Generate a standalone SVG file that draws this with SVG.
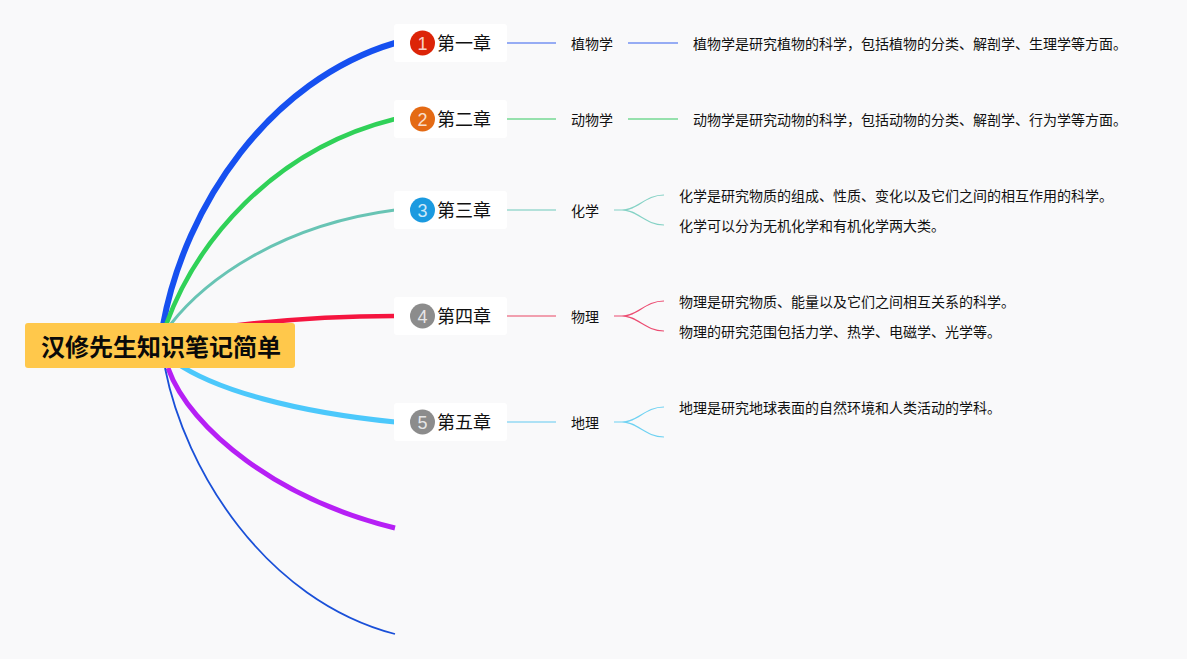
<svg xmlns="http://www.w3.org/2000/svg" width="1187" height="659" viewBox="0 0 1187 659">
<style>
text{font-family:"Noto Sans CJK SC","Noto Sans",sans-serif;fill:#111}
.ch{font-size:18px}
.sub{font-size:14px}
.leaf{font-size:14px}
.num{font-family:"Liberation Sans",sans-serif;font-size:18px;fill:#fff;text-anchor:middle;fill-opacity:.8}
.box{fill:#fff}
.m{fill:none;stroke-linecap:butt}
.t{fill:none;stroke-width:1.5;stroke-opacity:.65}
.b{stroke-width:1.2;fill:none;stroke-opacity:.8}
</style>
<rect width="1187" height="659" fill="#f9f9fa"/>
<g id="connectors">
<path class="m" d="M163 325C185 205 270 80 395 43" stroke="#1650f0" stroke-width="6"/>
<path class="m" d="M166 325C195 245 270 150 395 119" stroke="#30d158" stroke-width="4.5"/>
<path class="m" d="M170 325C205 280 280 225 395 210" stroke="#68c4b4" stroke-width="3"/>
<path class="m" d="M230 326C280 320 340 316 395 316" stroke="#f5153f" stroke-width="4.5"/>
<path class="m" d="M175 362C215 390 295 412 395 422" stroke="#4cc8fb" stroke-width="5"/>
<path class="m" d="M168 368C190 430 280 500 395 528" stroke="#b620f5" stroke-width="5"/>
<path class="m" d="M165 368C185 470 265 600 395 634" stroke="#1a50d8" stroke-width="1.8"/>
<g class="t">
<path d="M507 43H556M628 43H678" stroke="#2f5cf0"/>
<path d="M507 119H556M628 119H678" stroke="#30c860"/>
<path d="M507 210H556" stroke="#68c8b8"/>
<path d="M507 316H556" stroke="#e8405f"/>
<path d="M507 422H556" stroke="#5cc8f0"/>
</g>
<g class="b" stroke="#68c8b8"><path d="M614 210H622C638 210 645 195 664 195M622 210C638 210 645 225 664 225"/></g>
<g class="b" stroke="#e8204f"><path d="M614 316H622C638 316 645 301 664 301M622 316C638 316 645 331 664 331"/></g>
<g class="b" stroke="#4cc8f0"><path d="M614 422H622C638 422 645 407 664 407M622 422C638 422 645 437 664 437"/></g>
</g>
<g id="root"><rect x="25" y="323" width="270" height="45" rx="3" fill="#ffc84b"/>
<text x="41" y="356" font-size="24" font-weight="700" style="fill:#0a0a0a">汉修先生知识笔记简单</text></g>
<g id="ch1"><rect class="box" x="394" y="24" width="113" height="38" rx="3"/><circle cx="422.500" cy="43" r="12.500" fill="#dc2408"/><text class="num" x="422.500" y="49.500">1</text><text class="ch" x="437" y="50">第一章</text></g>
<g id="ch2"><rect class="box" x="394" y="100" width="113" height="38" rx="3"/><circle cx="422.500" cy="119" r="12.500" fill="#e46a14"/><text class="num" x="422.500" y="125.500">2</text><text class="ch" x="437" y="126">第二章</text></g>
<g id="ch3"><rect class="box" x="394" y="191" width="113" height="38" rx="3"/><circle cx="422.500" cy="210" r="12.500" fill="#1b9ae0"/><text class="num" x="422.500" y="216.500">3</text><text class="ch" x="437" y="217">第三章</text></g>
<g id="ch4"><rect class="box" x="394" y="297" width="113" height="38" rx="3"/><circle cx="422.500" cy="316" r="12.500" fill="#8c8c8c"/><text class="num" x="422.500" y="322.500">4</text><text class="ch" x="437" y="323">第四章</text></g>
<g id="ch5"><rect class="box" x="394" y="403" width="113" height="38" rx="3"/><circle cx="422.500" cy="422" r="12.500" fill="#8c8c8c"/><text class="num" x="422.500" y="428.500">5</text><text class="ch" x="437" y="429">第五章</text></g>
<g id="s1"><text class="sub" x="571" y="49">植物学</text></g>
<g id="s2"><text class="sub" x="571" y="125">动物学</text></g>
<g id="s3"><text class="sub" x="571" y="216">化学</text></g>
<g id="s4"><text class="sub" x="571" y="322">物理</text></g>
<g id="s5"><text class="sub" x="571" y="428">地理</text></g>
<g id="l1"><text class="leaf" x="693" y="49">植物学是研究植物的科学，包括植物的分类、解剖学、生理学等方面。</text></g>
<g id="l2"><text class="leaf" x="693" y="125">动物学是研究动物的科学，包括动物的分类、解剖学、行为学等方面。</text></g>
<g id="l3"><text class="leaf" x="679" y="201">化学是研究物质的组成、性质、变化以及它们之间的相互作用的科学。</text></g>
<g id="l4"><text class="leaf" x="679" y="231">化学可以分为无机化学和有机化学两大类。</text></g>
<g id="l5"><text class="leaf" x="679" y="307">物理是研究物质、能量以及它们之间相互关系的科学。</text></g>
<g id="l6"><text class="leaf" x="679" y="337">物理的研究范围包括力学、热学、电磁学、光学等。</text></g>
<g id="l7"><text class="leaf" x="679" y="413">地理是研究地球表面的自然环境和人类活动的学科。</text></g>
</svg>
